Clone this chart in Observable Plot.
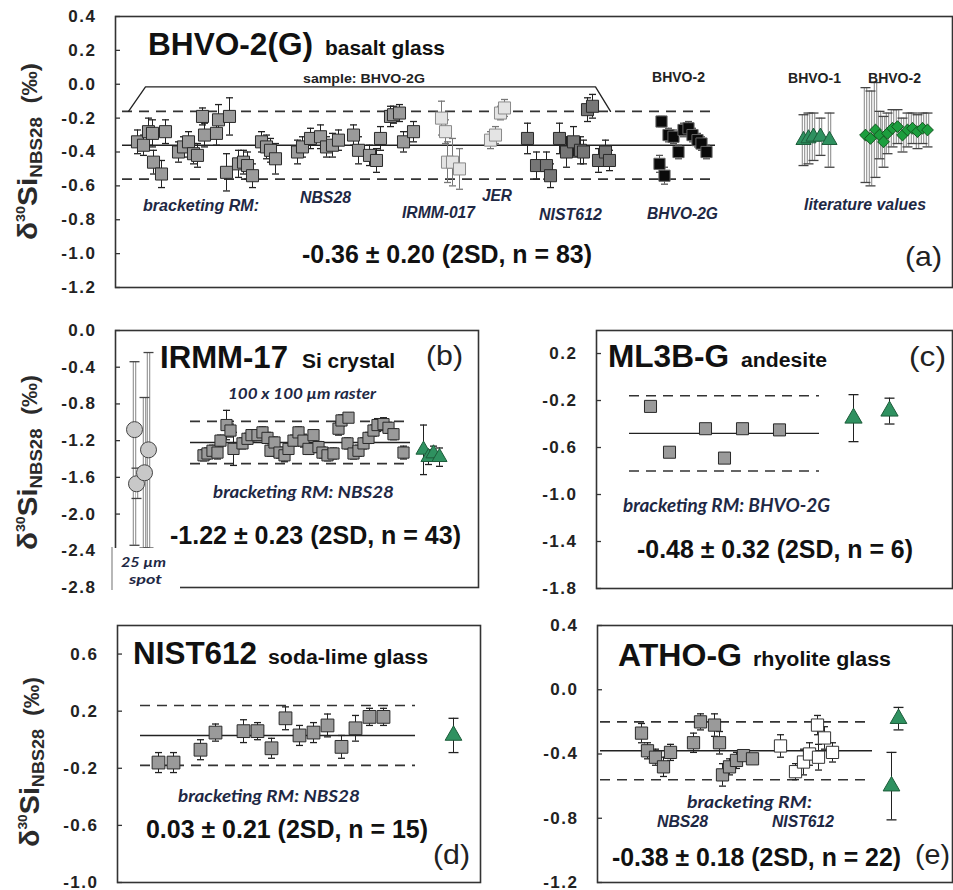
<!DOCTYPE html>
<html><head><meta charset="utf-8">
<script src="https://cdn.jsdelivr.net/npm/d3@7"></script>
<script src="https://cdn.jsdelivr.net/npm/@observablehq/plot@0.6"></script>
<style>
body{margin:0;background:#fff;}
#fig{position:relative;width:953px;height:890px;background:#fff;}
#overlay{position:absolute;left:0;top:0;pointer-events:none;}
</style></head><body><div id="fig"></div><script>
// ---------- Panel (a) BHVO-2(G) ----------
const aTicks = [0.4,0.2,0.0,-0.2,-0.4,-0.6,-0.8,-1.0,-1.2];
const aNbsX = [2.2,2.8,3.3,3.7,3.8,4.6,5.0,6.3,6.8,7.3,7.8,8.2,8.7,8.9,10.1,10.3,11.4,11.1,12.3,12.8,13.2,13.7,14.6,15.1,15.5,16.0,18.2,18.7,19.5,20.5,21.1,21.7,22.3,23.8,24.3,25.4,26.1,26.5,27.5,27.8,28.4,28.8,29.8];
const aNbsV = [-0.34,-0.36,-0.28,-0.29,-0.46,-0.53,-0.28,-0.40,-0.37,-0.34,-0.41,-0.42,-0.19,-0.30,-0.29,-0.21,-0.19,-0.52,-0.47,-0.46,-0.48,-0.54,-0.34,-0.37,-0.39,-0.44,-0.40,-0.37,-0.32,-0.31,-0.37,-0.36,-0.33,-0.30,-0.39,-0.42,-0.45,-0.32,-0.19,-0.18,-0.17,-0.34,-0.28];
const aNbsE = [0.07,0.06,0.08,0.08,0.07,0.08,0.07,0.06,0.06,0.06,0.06,0.07,0.05,0.07,0.07,0.09,0.11,0.11,0.08,0.07,0.08,0.07,0.06,0.07,0.07,0.09,0.07,0.06,0.06,0.07,0.06,0.07,0.06,0.06,0.08,0.06,0.07,0.07,0.06,0.05,0.05,0.06,0.06];
const aIrmmX = [32.6,33.0,33.2,33.7,34.4];
const aIrmmV = [-0.20,-0.28,-0.46,-0.46,-0.50];
const aIrmmE = [0.10,0.07,0.12,0.14,0.12];
const aJerX = [37.5,38.0,38.5,38.9];
const aJerV = [-0.33,-0.30,-0.17,-0.14];
const aJerE = [0.05,0.05,0.04,0.05];
const aNistX = [41.2,42.1,43.1,43.5,44.4,45.1,45.8,46.5,46.8,47.2,47.7,48.3,49.0,49.4];
const aNistV = [-0.32,-0.48,-0.48,-0.54,-0.32,-0.40,-0.34,-0.39,-0.40,-0.15,-0.13,-0.45,-0.40,-0.45];
const aNistE = [0.09,0.08,0.08,0.07,0.09,0.09,0.09,0.08,0.07,0.07,0.07,0.07,0.07,0.06];
const aBhvoX = [54.4,54.6,54.9,55.3,55.8,56.3,56.8,57.3,57.7,58.2,58.6,59.1];
const aBhvoV = [-0.47,-0.22,-0.54,-0.30,-0.31,-0.40,-0.27,-0.26,-0.30,-0.33,-0.35,-0.40];
const aBhvoE = [0.05,0.03,0.05,0.04,0.04,0.04,0.04,0.04,0.04,0.04,0.04,0.04];
const aLit1X = [68.8,69.3,69.8,70.5,71.4];
const aLit1V = [-0.33,-0.32,-0.31,-0.31,-0.33];
const aLit1E = [0.15,0.15,0.14,0.11,0.16];
const aLit2X = [75.0,75.5,76.0,76.4,76.8,77.2,77.7,78.2,78.7,79.2,79.7,80.2,80.7,81.2];
const aLit2V = [-0.30,-0.32,-0.27,-0.30,-0.34,-0.29,-0.26,-0.25,-0.30,-0.27,-0.26,-0.28,-0.26,-0.27];
const aLit2E = [0.28,0.28,0.28,0.14,0.15,0.12,0.11,0.10,0.10,0.10,0.09,0.10,0.09,0.10];
const aMean = -0.36, a2sd = 0.20;
const aBracketX = [1.3,3.0,48.0,49.5];
const aBracketV = [-0.16,-0.015,-0.015,-0.16];

// ---------- Panel (b) IRMM-17 ----------
const bTicks = [0.0,-0.4,-0.8,-1.2,-1.6,-2.0,-2.4,-2.8];
const bSpotX = [1.9,2.1,3.3,2.9];
const bSpotV = [-1.08,-1.67,-1.30,-1.55];
const bSpotLo = [-2.34,-1.83,-2.37,-2.37];
const bSpotHi = [-0.34,-1.50,-0.24,-0.73];
const bRasX = [8.8,9.2,9.7,10.2,10.5,11.1,11.5,11.8,12.7,13.2,13.6,14.2,14.7,15.2,15.5,15.9,16.4,16.9,17.3,17.8,18.3,18.8,19.3,19.8,20.3,20.7,21.2,21.8,22.3,22.6,23.3,23.2,23.8,24.3,24.8,25.3,25.8,26.2,26.8,27.3,27.8,28.8];
const bRasV = [-1.36,-1.34,-1.31,-1.33,-1.20,-1.03,-1.09,-1.29,-1.23,-1.18,-1.14,-1.14,-1.11,-1.17,-1.31,-1.22,-1.33,-1.36,-1.29,-1.20,-1.11,-1.20,-1.29,-1.14,-1.27,-1.33,-1.36,-1.34,-1.07,-0.98,-0.95,-1.23,-1.34,-1.31,-1.23,-1.17,-1.09,-1.03,-1.02,-1.06,-1.13,-1.33];
const bRasE = [0.06,0.06,0.06,0.07,0.06,0.16,0.07,0.18,0.06,0.06,0.06,0.06,0.06,0.06,0.06,0.06,0.06,0.07,0.06,0.06,0.06,0.07,0.06,0.06,0.06,0.06,0.06,0.06,0.07,0.06,0.05,0.06,0.06,0.06,0.06,0.06,0.06,0.07,0.07,0.06,0.06,0.07];
const bLitX = [30.8,31.3,31.8,32.4];
const bLitV = [-1.30,-1.38,-1.34,-1.38];
const bLitE = [0.27,0.08,0.08,0.10];
const bMean = -1.22, b2sd = 0.23;

// ---------- Panel (c) ML3B-G ----------
const cTicks = [0.2,-0.2,-0.6,-1.0,-1.4,-1.8];
const cX = [5.4,7.3,10.9,12.8,14.6,18.3];
const cV = [-0.25,-0.64,-0.44,-0.69,-0.44,-0.45];
const cE = [0.04,0.04,0.04,0.04,0.04,0.04];
const cLitX = [25.7,29.3];
const cLitV = [-0.35,-0.29];
const cLitE = [0.20,0.11];
const cMean = -0.48, c2sd = 0.32;

// ---------- Panel (d) NIST612 ----------
const dTicks = [0.6,0.2,-0.2,-0.6,-1.0];
const dX = [4.1,5.6,8.3,9.8,12.6,14.0,15.4,16.8,18.2,19.6,21.0,22.4,23.8,25.2,26.6];
const dV = [-0.16,-0.16,-0.07,0.05,0.06,0.06,-0.06,0.15,0.03,0.05,0.10,-0.05,0.08,0.16,0.16];
const dE = [0.07,0.07,0.07,0.06,0.08,0.06,0.07,0.08,0.07,0.07,0.08,0.08,0.09,0.06,0.06];
const dLitX = [33.6];
const dLitV = [0.03];
const dLitE = [0.12];
const dMean = 0.03, d2sd = 0.21;

// ---------- Panel (e) ATHO-G ----------
const eTicks = [0.4,0.0,-0.4,-0.8,-1.2];
const eNbsX = [4.4,5.0,5.8,6.6,7.3,9.6,10.3,11.7,12.2,12.5,13.2,13.9,14.6,15.5];
const eNbsV = [-0.27,-0.38,-0.42,-0.48,-0.39,-0.33,-0.20,-0.22,-0.33,-0.53,-0.48,-0.44,-0.41,-0.43];
const eNbsE = [0.06,0.05,0.05,0.06,0.05,0.06,0.05,0.07,0.07,0.07,0.05,0.05,0.03,0.03];
const eNistX = [18.3,19.8,20.6,21.2,22.0,22.1,22.7,23.5];
const eNistV = [-0.35,-0.51,-0.45,-0.40,-0.22,-0.42,-0.30,-0.39];
const eNistE = [0.07,0.05,0.08,0.07,0.06,0.08,0.07,0.06];
const eLitX = [30.1,29.4];
const eLitV = [-0.18,-0.60];
const eLitE = [0.07,0.21];
const eMean = -0.38, e2sd = 0.18;

// ---------- helpers ----------
const fig = document.getElementById("fig");
const rows = (xs, vs, es) => xs.map((x, i) => ({x, v: vs[i], e: es[i]}));
const lo = d => d.lo !== undefined ? d.lo : d.v - d.e;
const hi = d => d.hi !== undefined ? d.hi : d.v + d.e;

function bars(data, {stroke = "#222", sw = 1, cap = 0.35, hollow = false} = {}) {
  const m = [];
  if (hollow) {
    m.push(Plot.ruleX(data, {x: "x", y1: lo, y2: hi, stroke: "#777", strokeWidth: 3.4}));
    m.push(Plot.ruleX(data, {x: "x", y1: lo, y2: hi, stroke: "#fff", strokeWidth: 1.6}));
  } else {
    m.push(Plot.ruleX(data, {x: "x", y1: lo, y2: hi, stroke, strokeWidth: sw}));
  }
  m.push(Plot.link(data, {x1: d => d.x - cap, x2: d => d.x + cap, y1: hi, y2: hi, stroke: hollow ? "#444" : stroke, strokeWidth: sw + 0.3}));
  m.push(Plot.link(data, {x1: d => d.x - cap, x2: d => d.x + cap, y1: lo, y2: lo, stroke: hollow ? "#444" : stroke, strokeWidth: sw + 0.3}));
  return m;
}
function pts(data, symbol, r, fill, stroke, sw = 1) {
  return Plot.dot(data, {x: "x", y: "v", symbol, r, fill, stroke, strokeWidth: sw});
}
function band(mean, sd, x1, x2) {
  return [
    Plot.ruleY([mean - sd, mean + sd], {x1, x2, stroke: "#333", strokeWidth: 1.6, strokeDasharray: "10,7"}),
    Plot.ruleY([mean], {x1, x2, stroke: "#222", strokeWidth: 1.4})
  ];
}
function panel({L, T, R, B, yDomain, yTicks, marks, mB = 14}) {
  const mL = 70, mR = 2, mT = 14;
  const xMax = (R - L) / 10;
  const p = Plot.plot({
    width: R - L + mL + mR, height: B - T + mT + mB,
    marginLeft: mL, marginRight: mR, marginTop: mT, marginBottom: mB,
    x: {domain: [0, xMax], axis: null},
    y: {domain: yDomain, ticks: yTicks, tickFormat: d => d.toFixed(1), tickSize: 0, tickPadding: 19, label: null},
    style: {fontFamily: "'Liberation Sans', Arial, sans-serif", fontSize: "17px", fontWeight: "bold",
            letterSpacing: "1.5px", color: "#222", background: "transparent", overflow: "visible", maxWidth: "none"},
    marks: [
      Plot.ruleY(yTicks, {x1: 0, x2: 0.5, stroke: "#333", strokeWidth: 1.3}),
      ...marks,
      Plot.frame({stroke: "#333", strokeWidth: 1.6})
    ]
  });
  p.style.position = "absolute";
  p.style.left = (L - mL) + "px";
  p.style.top = (T - mT) + "px";
  fig.append(p);
}

// colours
const gNbs = "#9a9a9a", gLight = "#e4e4e4", gNist = "#767676", green1 = "#2f9160", green2 = "#1c9e3e";

// ---------- panel a ----------
{
  const nbs = rows(aNbsX, aNbsV, aNbsE), irmm = rows(aIrmmX, aIrmmV, aIrmmE), jer = rows(aJerX, aJerV, aJerE);
  const nist = rows(aNistX, aNistV, aNistE), bh = rows(aBhvoX, aBhvoV, aBhvoE);
  const l1 = rows(aLit1X, aLit1V, aLit1E), l2 = rows(aLit2X, aLit2V, aLit2E);
  const br = aBracketX.map((x, i) => ({x, v: aBracketV[i]}));
  panel({L: 115, T: 16, R: 952, B: 287, yDomain: [-1.2, 0.4], yTicks: aTicks, marks: [
    ...band(aMean, a2sd, 0.7, 60.0),
    Plot.line(br, {x: "x", y: "v", stroke: "#222", strokeWidth: 1.3}),
    ...bars(nbs), pts(nbs, "square", 6.8, gNbs, "#2a2a2a"),
    ...bars(irmm, {stroke: "#777"}), pts(irmm, "square", 6.8, gLight, "#8a8a8a"),
    ...bars(jer, {stroke: "#777"}), pts(jer, "square", 6.8, gLight, "#8a8a8a"),
    ...bars(nist), pts(nist, "square", 6.8, gNist, "#2a2a2a"),
    ...bars(bh, {stroke: "#555"}), pts(bh, "square", 6.3, "#0a0a0a", "#666"),
    ...bars(l1, {hollow: true, cap: 0.5}), pts(l1, "triangle", 5.6, green1, "#1d5c3a"),
    ...bars(l2, {hollow: true, cap: 0.5}), pts(l2, "diamond2", 5.3, green2, "#14551f")
  ]});
}
// ---------- panel b ----------
{
  const spot = bSpotX.map((x, i) => ({x, v: bSpotV[i], lo: bSpotLo[i], hi: bSpotHi[i]}));
  const ras = rows(bRasX, bRasV, bRasE), lit = rows(bLitX, bLitV, bLitE);
  panel({L: 115, T: 330, R: 478, B: 587, yDomain: [-2.8, 0.0], yTicks: bTicks, marks: [
    ...band(bMean, b2sd, 7.5, 29.5),
    ...bars(spot, {hollow: true, cap: 0.5}), pts(spot, "circle", 8, "#c8c8c8", "#444"),
    ...bars(ras), pts(ras, "square", 6.3, gNbs, "#2a2a2a"),
    ...bars(lit), pts(lit, "triangle", 5.6, green1, "#1d5c3a")
  ]});
}
// ---------- panel c ----------
{
  const s = rows(cX, cV, cE), lit = rows(cLitX, cLitV, cLitE);
  panel({L: 596, T: 330, R: 952, B: 588, yDomain: [-1.8, 0.396], yTicks: cTicks, marks: [
    ...band(cMean, c2sd, 3.3, 22.3),
    ...bars(s), pts(s, "square", 6.8, gNbs, "#2a2a2a"),
    ...bars(lit, {cap: 0.5}), pts(lit, "triangle", 6.4, green1, "#1d5c3a")
  ]});
}
// ---------- panel d ----------
{
  const s = rows(dX, dV, dE), lit = rows(dLitX, dLitV, dLitE);
  panel({L: 117, T: 625, R: 480, B: 882, mB: 7, yDomain: [-1.0, 0.8], yTicks: dTicks, marks: [
    ...band(dMean, d2sd, 2.3, 29.8),
    ...bars(s), pts(s, "square", 7.2, gNbs, "#2a2a2a"),
    ...bars(lit, {cap: 0.5}), pts(lit, "triangle", 6.2, green1, "#1d5c3a")
  ]});
}
// ---------- panel e ----------
{
  const nb = rows(eNbsX, eNbsV, eNbsE), ni = rows(eNistX, eNistV, eNistE), lit = rows(eLitX, eLitV, eLitE);
  panel({L: 597, T: 625, R: 952, B: 882, mB: 7, yDomain: [-1.2, 0.4], yTicks: eTicks, marks: [
    ...band(eMean, e2sd, 0.3, 27.5),
    ...bars(nb), pts(nb, "square", 6.9, gNbs, "#2a2a2a"),
    ...bars(ni), pts(ni, "square", 6.9, "#ffffff", "#333"),
    ...bars(lit, {cap: 0.5}), pts(lit, "triangle", 6.2, green1, "#1d5c3a")
  ]});
}

// ---------- overlay text ----------
const ov = d3.select(fig).append("svg").attr("id", "overlay").attr("width", 953).attr("height", 890);
const SANS = "'Liberation Sans', Arial, sans-serif", CAL = "Lato, 'Open Sans', sans-serif";
function t(x, y, s, {size = 16, weight = "bold", style = "normal", fill = "#111", len = null, family = SANS} = {}) {
  const el = ov.append("text").attr("x", x).attr("y", y).text(s)
    .attr("font-family", family).attr("font-size", size).attr("font-weight", weight)
    .attr("font-style", style).attr("fill", fill);
  if (len) el.attr("textLength", len).attr("lengthAdjust", "spacingAndGlyphs");
  return el;
}
const navy = "#1e2844";
// panel a
t(148, 55, "BHVO-2(G)", {size: 31, len: 165});
t(325, 55, "basalt glass", {size: 20, len: 120});
t(303, 83, "sample: BHVO-2G", {size: 13.5, len: 122, fill: "#222"});
t(143, 211, "bracketing RM:", {size: 16, style: "italic", fill: navy, len: 116});
t(300, 203, "NBS28", {size: 16, style: "italic", fill: navy, len: 51});
t(402, 218, "IRMM-017", {size: 16, style: "italic", fill: navy, len: 73});
t(482, 201, "JER", {size: 16, style: "italic", fill: navy, len: 30});
t(539, 220, "NIST612", {size: 16, style: "italic", fill: navy, len: 63});
t(647, 219, "BHVO-2G", {size: 16, style: "italic", fill: navy, len: 71});
t(652, 82, "BHVO-2", {size: 14, len: 53, fill: "#222"});
t(788, 83, "BHVO-1", {size: 14, len: 53, fill: "#222"});
t(868, 83, "BHVO-2", {size: 14, len: 53, fill: "#222"});
t(804, 210, "literature values", {size: 16, style: "italic", fill: navy, len: 122});
t(302, 263, "-0.36 ± 0.20 (2SD, n = 83)", {size: 25, len: 290});
t(905, 266, "(a)", {size: 28, weight: "normal", len: 37, fill: "#222"});
// panel b
t(160, 368, "IRMM-17", {size: 31, len: 128});
t(302, 368, "Si crystal", {size: 21, len: 93});
t(426, 365, "(b)", {size: 28, weight: "normal", len: 37, fill: "#222"});
t(228, 399, "100 x 100 µm raster", {size: 15, style: "italic", fill: navy, len: 148, family: CAL});
t(213, 498, "bracketing RM: NBS28", {size: 17, style: "italic", fill: navy, len: 181, family: CAL});
t(170, 544, "-1.22 ± 0.23 (2SD, n = 43)", {size: 25, len: 291});
ov.append("rect").attr("x", 110).attr("y", 548).attr("width", 70).attr("height", 44).attr("fill", "#fff");
ov.append("line").attr("x1", 112).attr("x2", 112).attr("y1", 547).attr("y2", 590).attr("stroke", "#888").attr("stroke-width", 1.2);
t(121, 567, "25 µm", {size: 14, style: "italic", fill: navy, len: 45, family: CAL});
t(129, 584, "spot", {size: 14, style: "italic", fill: navy, len: 33, family: CAL});
// panel c
t(608, 367, "ML3B-G", {size: 31, len: 121});
t(741, 367, "andesite", {size: 20, len: 86});
t(909, 366, "(c)", {size: 28, weight: "normal", len: 37, fill: "#222"});
t(623, 512, "bracketing RM: BHVO-2G", {size: 18, style: "italic", fill: navy, len: 207, family: CAL});
t(637, 558, "-0.48 ± 0.32 (2SD, n = 6)", {size: 25, len: 276});
// panel d
t(133, 664, "NIST612", {size: 31, len: 124});
t(268, 664, "soda-lime glass", {size: 20, len: 160});
t(178, 802, "bracketing RM: NBS28", {size: 17, style: "italic", fill: navy, len: 182, family: CAL});
t(146, 838, "0.03 ± 0.21 (2SD, n = 15)", {size: 25, len: 282});
t(433, 864, "(d)", {size: 28, weight: "normal", len: 37, fill: "#222"});
// panel e
t(618, 666, "ATHO-G", {size: 31, len: 124});
t(753, 666, "rhyolite glass", {size: 20, len: 138});
t(687, 808, "bracketing RM:", {size: 17, style: "italic", fill: navy, len: 125, family: CAL});
t(657, 827, "NBS28", {size: 16, style: "italic", fill: navy, len: 51});
t(772, 827, "NIST612", {size: 16, style: "italic", fill: navy, len: 62});
t(612, 866, "-0.38 ± 0.18 (2SD, n = 22)", {size: 25, len: 289});
t(915, 864, "(e)", {size: 28, weight: "normal", len: 35, fill: "#222"});

// rotated y-axis titles
function ylab(x, y, len) {
  const el = ov.append("text").attr("transform", `translate(${x},${y}) rotate(-90)`)
    .attr("font-family", SANS).attr("font-weight", "bold").attr("fill", "#2a2a2a")
    .attr("textLength", len).attr("lengthAdjust", "spacingAndGlyphs");
  el.append("tspan").attr("font-size", 27).text("δ");
  el.append("tspan").attr("font-size", 13).attr("dy", -12).text("30");
  el.append("tspan").attr("font-size", 27).attr("dy", 12).text("Si");
  el.append("tspan").attr("font-size", 17).attr("dy", 5).text("NBS28");
  el.append("tspan").attr("font-size", 22).attr("dy", -5).text("\u00a0\u00a0(‰)");
}
ylab(37, 240, 177);
ylab(37, 550, 175);
ylab(39, 847, 170);
</script></body></html>
